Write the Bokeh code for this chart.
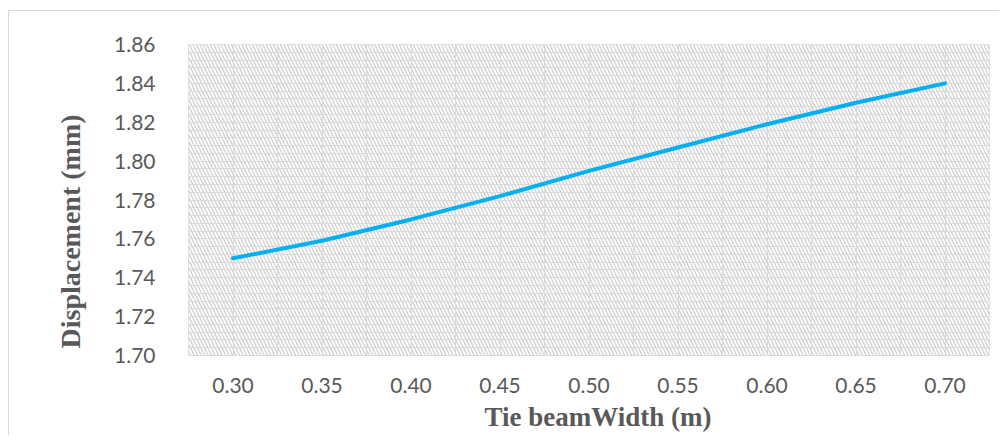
from bokeh.plotting import figure
from bokeh.models import (ColumnDataSource, FixedTicker, SingleIntervalTicker,
                          Range1d, BoxAnnotation, NumeralTickFormatter, Title)
from bokeh.embed import file_html
from bokeh.resources import INLINE

# Data
widths = [0.30, 0.35, 0.40, 0.45, 0.50, 0.55, 0.60, 0.65, 0.70]
displacement = [1.750, 1.759, 1.770, 1.782, 1.795, 1.807, 1.819, 1.830, 1.840]
x_tick_values = [0.30, 0.35, 0.40, 0.45, 0.50, 0.55, 0.60, 0.65, 0.70]
x_grid_values = [0.275, 0.30, 0.325, 0.35, 0.375, 0.40, 0.425, 0.45, 0.475, 0.50,
                 0.525, 0.55, 0.575, 0.60, 0.625, 0.65, 0.675, 0.70, 0.725]
x_title = "Tie beamWidth (m)"
y_title = "Displacement (mm)"

GRID = "#dadada"
TXT = "#595959"

p = figure(width=990, height=430, output_backend="svg", toolbar_location=None,
           x_range=Range1d(0.275, 0.725), y_range=Range1d(1.70, 1.86),
           frame_width=801, frame_height=311,
           min_border_left=179, min_border_top=33, min_border_right=10, min_border_bottom=76)
p.margin = (10, 0, 0, 8)
p.styles = {"border-top": "1px solid #d9d9d9", "border-left": "1px solid #d9d9d9"}
p.background_fill_color = "white"
p.border_fill_color = "white"
p.outline_line_color = GRID

# hatched plot area
p.add_layout(BoxAnnotation(fill_color="white", fill_alpha=1.0, line_alpha=0,
                           hatch_pattern="\\", hatch_color="#d0d0d0", hatch_scale=7,
                           hatch_weight=1.3, level="image"))

src = ColumnDataSource(dict(x=widths, y=displacement))
p.line("x", "y", source=src, line_color="#00B0F0", line_width=4, line_cap="round")

# x axis
p.xaxis.ticker = FixedTicker(ticks=x_tick_values)
p.xaxis.formatter = NumeralTickFormatter(format="0.00")
p.xgrid.ticker = FixedTicker(ticks=x_grid_values)
p.xgrid.grid_line_color = GRID
p.xaxis.axis_line_color = GRID
p.xaxis.major_tick_line_color = None
p.xaxis.minor_tick_line_color = None
p.xaxis.major_label_text_font = "Lato"
p.xaxis.major_label_text_font_size = "21px"
p.xaxis.major_label_text_color = TXT
p.xaxis.major_label_standoff = 16

# y axis
p.yaxis.ticker = SingleIntervalTicker(interval=0.02, num_minor_ticks=5)
p.yaxis.formatter = NumeralTickFormatter(format="0.00")
p.ygrid.grid_line_color = GRID
p.ygrid.minor_grid_line_color = GRID
p.yaxis.axis_line_color = None
p.yaxis.major_tick_line_color = None
p.yaxis.minor_tick_line_color = None
p.yaxis.major_label_text_font = "Lato"
p.yaxis.major_label_text_font_size = "21px"
p.yaxis.major_label_text_color = TXT
p.yaxis.major_label_standoff = 27

# axis titles as side titles (offset to match the original)
p.add_layout(Title(text=x_title, align="left", offset=296, standoff=8,
                   text_font="Liberation Serif", text_font_style="bold",
                   text_font_size="27px", text_color=TXT), "below")
p.add_layout(Title(text=y_title, align="left", offset=7, standoff=52,
                   text_font="Liberation Serif", text_font_style="bold",
                   text_font_size="28px", text_color=TXT), "left")

open("out.html", "w").write(file_html(p, INLINE))
